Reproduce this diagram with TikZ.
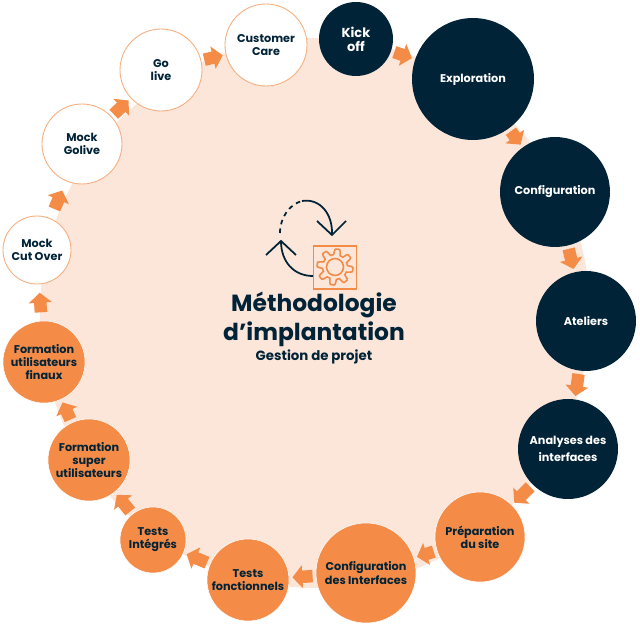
\documentclass[tikz,border=0pt]{standalone}
\usepackage{fontspec}
\setmainfont{Poppins}
\usetikzlibrary{arrows.meta,shapes}

\definecolor{navy}{HTML}{002337}
\definecolor{carrot}{HTML}{F48B47}
\definecolor{peach}{HTML}{FCE6DA}

\tikzset{
    phase/.style={circle, inner sep=0pt, outer sep=0pt, align=center, font=\fontsize{6.4}{7.5}\selectfont\bfseries},
    darkphase/.style={phase, fill=navy, text=white},
    hotphase/.style={phase, fill=carrot, draw=white, line width=0.3pt, text=navy},
    openphase/.style={phase, fill=white, draw=carrot!70, line width=0.5pt, text=navy},
    flow/.style={carrot, line width=0.25cm, shorten >=2pt, shorten <=2pt, -{Triangle[width=0.45cm,length=0.2cm]}},
    icon/.style={navy, line width=1pt}
}

\begin{document}
\begin{tikzpicture}[x=0.02cm, y=-0.02cm]
    \useasboundingbox (0,0) rectangle (640,625);
    \node (ring) [circle, fill=peach, minimum size=11cm] at (315,313) {};

    \node (kick) [darkphase, minimum size=1.48cm, font=\fontsize{7.4}{8}\selectfont\bfseries] at (356,39) {Kick\\off};
    \node (explo) [darkphase, minimum size=2.44cm] at (473,79) {Exploration};
    \node (config) [darkphase, minimum size=2.2cm] at (555,192) {Configuration};
    \node (atel) [darkphase, minimum size=2cm] at (586,321) {Ateliers};
    \node (analyse) [darkphase, minimum size=2cm] at (568,449) {Analyses des\\[2pt]interfaces};
    \node (prepa) [hotphase, minimum size=1.8cm] at (480,537) {Préparation\\du site};
    \node (inter) [hotphase, minimum size=2cm] at (366,573) {Configuration\\des Interfaces};
    \node (fonct) [hotphase, minimum size=1.64cm] at (248,580) {Tests\\fonctionnels};
    \node (integ) [hotphase, minimum size=1.32cm] at (153,540) {Tests\\Intégrés};
    \node (super) [hotphase, minimum size=1.64cm] at (89,460) {Formation\\super\\utilisateurs};
    \node (final) [hotphase, minimum size=1.64cm] at (44,362) {Formation\\utilisateurs\\finaux};
    \node (cutover) [openphase, minimum size=1.36cm] at (37,250) {Mock\\Cut Over};
    \node (mock) [openphase, minimum size=1.6cm] at (82,144) {Mock\\Golive};
    \node (golive) [openphase, minimum size=1.64cm] at (161,70) {Go\\live};
    \node (care) [openphase, minimum size=1.64cm] at (266,45) {Customer\\Care};

    \path[flow]
        (kick) edge (explo)
        (explo) edge (config)
        (config) edge (atel)
        (atel) edge (analyse)
        (analyse) edge (prepa)
        (prepa) edge (inter)
        (inter) edge (fonct)
        (fonct) edge (integ)
        (integ) edge (super)
        (super) edge (final)
        (final) edge[shorten >=5pt, shorten <=5pt] (cutover)
        (cutover) edge[shorten >=6pt, shorten <=6pt] (mock)
        (mock) edge (golive)
        (golive) edge (care);

    % cycle icon
    \node (gearbox) [draw=carrot, line width=1.1pt, minimum size=0.86cm, inner sep=0pt] at (335,267.5) {};
    \node (hub) [circle, draw=carrot, line width=0.9pt, minimum size=0.34cm, inner sep=0pt] at (335,267) {};
    \draw[carrot, line width=0.9pt, shift={(335,267)}] plot[domain=0:357, samples=120, smooth cycle] (\x:{15.2+2.8*max(-1,min(1,2*sin(8*\x+22)))});

    \coordinate (dashstart) at (280,233);
    \coordinate (dashend) at (302,201);
    \coordinate (downtip) at (332,235);
    \coordinate (uptip) at (281,241);
    \coordinate (boxleft) at (313,276);
    \draw[icon, dash pattern=on 2.6pt off 2.4pt] (dashstart) .. controls (280,217) and (290,204) .. (dashend);
    \draw[icon] (dashend) .. controls (320,198) and (333,214) .. (downtip);
    \draw[icon] (317,221) -- (downtip) -- (346,221);
    \draw[icon] (boxleft) .. controls (294,276) and (281,262) .. (uptip);
    \draw[icon] (266,255) -- (uptip) -- (296,255);

    \node (title) [text=navy, align=center, font=\fontsize{13.3}{16.5}\selectfont\bfseries] at (314,319) {Méthodologie\\d’implantation};
    \node (sub) [text=navy, font=\fontsize{7.6}{9}\selectfont\bfseries] at (314,357) {Gestion de projet};
\end{tikzpicture}
\end{document}
